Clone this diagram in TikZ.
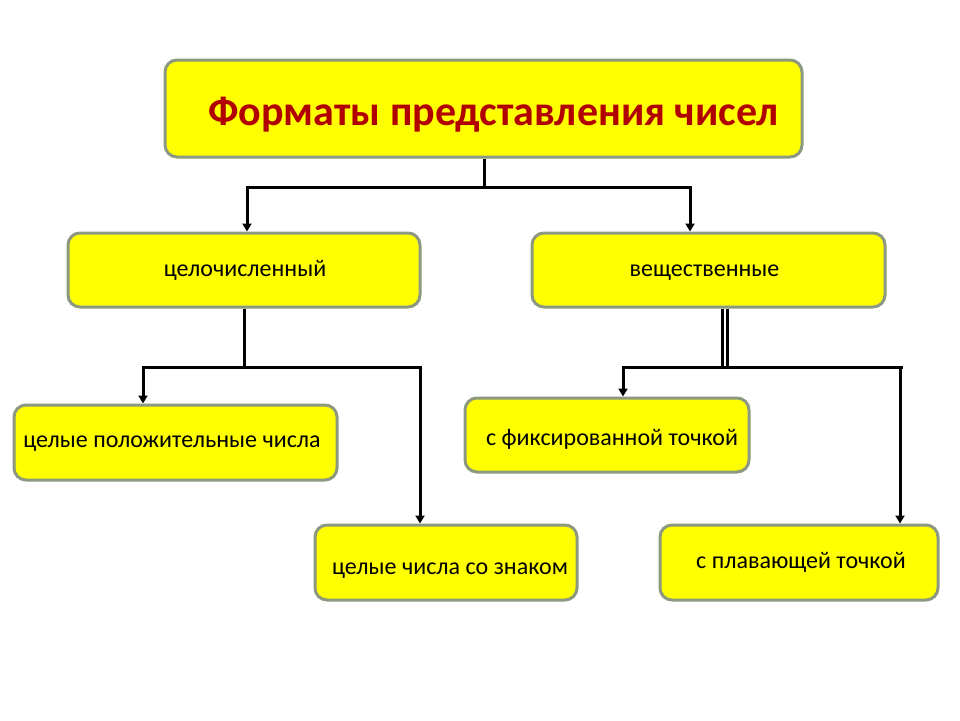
\documentclass[tikz,border=0pt]{standalone}
\usepackage{fontspec}
\setmainfont{Carlito}
\usetikzlibrary{arrows.meta}
\definecolor{boxfill}{RGB}{255,255,0}
\definecolor{boxline}{RGB}{140,152,128}
\definecolor{titlered}{RGB}{176,0,0}
\tikzset{
  box/.style={draw=boxline, line width=3pt, fill=boxfill, rounded corners=12pt, inner sep=0pt},
  txt/.style={font=\fontsize{24}{28}\selectfont, inner sep=0pt, text height=12pt, text depth=0pt},
  conn/.style={line width=3pt, black},
  arr/.style={conn, -{Triangle[width=9pt,length=8pt]}},
}
\begin{document}
\begin{tikzpicture}[x=1pt,y=-1pt]
\useasboundingbox (0,0) rectangle (960,720);
\node[box, minimum width=637pt, minimum height=97pt,
  label={[txt, font=\fontsize{42}{48}\selectfont\bfseries, text=titlered, text height=20pt, xshift=10pt, yshift=-7pt]center:Форматы представления чисел}] (title) at (483.5,108.5) {};
\node[box, minimum width=352pt, minimum height=74pt, label={[txt, xshift=1pt]center:целочисленный}] (int) at (244,270) {};
\node[box, minimum width=353pt, minimum height=74pt, label={[txt, xshift=-4pt]center:вещественные}] (real) at (708.5,270) {};
\node[box, minimum width=323pt, minimum height=75pt, label={[txt, xshift=-3.5pt, yshift=1pt]center:целые положительные числа}] (pos) at (175.5,442.5) {};
\node[box, minimum width=284pt, minimum height=74pt, label={[txt, xshift=5pt, yshift=-4pt]center:с фиксированной точкой}] (fix) at (607,435) {};
\node[box, minimum width=262pt, minimum height=75pt, label={[txt, xshift=4pt, yshift=-6pt]center:целые числа со знаком}] (sign) at (446,562.5) {};
\node[box, minimum width=278pt, minimum height=75pt, label={[txt, xshift=2pt]center:с плавающей точкой}] (float) at (799,562.5) {};
\coordinate (j1) at (484,187);
\coordinate (j2) at (244,367);
\coordinate (j3) at (724.5,367);
\draw[conn] (title.south -| j1) -- (j1);
\draw[arr] (j1) -| ([xshift=3pt]int.north);
\draw[arr] (j1) -| ([xshift=-18.5pt]real.north);
\draw[conn] (int.south) -- (j2);
\draw[arr] (j2) -| ([xshift=-32.5pt]pos.north);
\draw[arr] (j2) -| ([xshift=-26pt]sign.north);
\draw[conn] ([xshift=-2.5pt]real.south -| j3) -- ([xshift=-2.5pt]j3);
\draw[conn] ([xshift=2.5pt]real.south -| j3) -- ([xshift=2.5pt]j3);
\draw[arr] (j3) -| ([xshift=16pt]fix.north);
\draw[conn] (j3) -- ([xshift=104pt]float.north |- j3);
\draw[arr] ([xshift=101pt]float.north |- j3) -- ([xshift=101pt]float.north);
\end{tikzpicture}
\end{document}
